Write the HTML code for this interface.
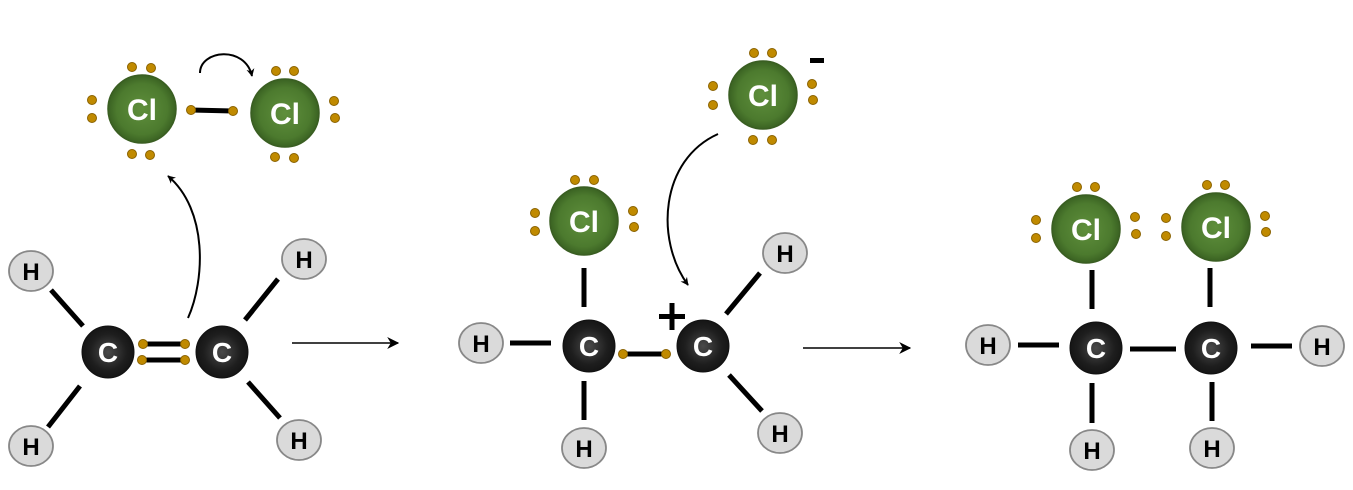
<!DOCTYPE html>
<html><head><meta charset="utf-8"><style>
html,body{margin:0;padding:0;background:#fff;}
svg{display:block;}
text{font-family:"Liberation Sans","DejaVu Sans",sans-serif;font-weight:bold;}
</style></head><body>
<svg width="1353" height="490" viewBox="0 0 1353 490" xmlns="http://www.w3.org/2000/svg">
<defs>
<radialGradient id="gc" cx="0.5" cy="0.5" r="0.5"><stop offset="0" stop-color="#4a4a4a"/><stop offset="0.7" stop-color="#1e1e1e"/><stop offset="1" stop-color="#151515"/></radialGradient>
<radialGradient id="gcl" cx="0.5" cy="0.5" r="0.5"><stop offset="0" stop-color="#5f8f3c"/><stop offset="0.75" stop-color="#4c7a2e"/><stop offset="1" stop-color="#3a6222"/></radialGradient>
<marker id="ah" viewBox="0 0 10 10" refX="9" refY="5" markerWidth="8" markerHeight="8" orient="auto" markerUnits="userSpaceOnUse"><path d="M0,0 L10,5 L0,10 L3,5 z" fill="#000"/></marker>
<marker id="ah2" viewBox="0 0 10 10" refX="9" refY="5" markerWidth="12" markerHeight="12" orient="auto" markerUnits="userSpaceOnUse"><path d="M0,0 L10,5 L0,10 L3,5 z" fill="#000"/></marker>
</defs>

<g stroke="#000" stroke-width="5" fill="none">
<!-- panel 1 bonds -->
<line x1="51" y1="290" x2="83" y2="326"/>
<line x1="80" y1="386" x2="48" y2="427"/>
<line x1="245" y1="320" x2="278" y2="279"/>
<line x1="248" y1="382" x2="280" y2="418"/>
<line x1="143" y1="344" x2="185" y2="344"/>
<line x1="142" y1="360" x2="185" y2="360"/>
<line x1="191" y1="110" x2="233" y2="111"/>
<!-- panel 2 -->
<line x1="584" y1="268" x2="584" y2="307"/>
<line x1="510" y1="343" x2="551" y2="343"/>
<line x1="584" y1="381" x2="584" y2="420"/>
<line x1="623" y1="354" x2="666" y2="354"/>
<line x1="726" y1="314" x2="760" y2="273"/>
<line x1="729" y1="375" x2="762" y2="411"/>
<!-- panel 3 -->
<line x1="1092" y1="270" x2="1092" y2="309"/>
<line x1="1210" y1="268" x2="1210" y2="307"/>
<line x1="1130" y1="349" x2="1176" y2="349"/>
<line x1="1018" y1="345" x2="1059" y2="345"/>
<line x1="1251" y1="346" x2="1292" y2="346"/>
<line x1="1092" y1="383" x2="1092" y2="423"/>
<line x1="1212" y1="382" x2="1212" y2="421"/>
</g>

<!-- arrows -->
<g stroke="#000" stroke-width="2" fill="none">
<line x1="292" y1="343" x2="398" y2="343" stroke-width="1.5" marker-end="url(#ah2)"/>
<line x1="803" y1="348" x2="910" y2="348" stroke-width="1.5" marker-end="url(#ah2)"/>
<path d="M188,318 C205,280 208,210 168,176" marker-end="url(#ah)"/>
<path d="M200,73 C200,50 245,45 252,76" marker-end="url(#ah)"/>
<path d="M718,134 C660,160 655,240 688,285" marker-end="url(#ah)"/>
</g>

<!-- H atoms -->
<g fill="#dadada" stroke="#888" stroke-width="1.8">
<ellipse cx="31" cy="271" rx="22" ry="20"/>
<ellipse cx="304" cy="259" rx="22" ry="20"/>
<ellipse cx="31" cy="446" rx="22" ry="20"/>
<ellipse cx="299" cy="440" rx="22" ry="20"/>
<ellipse cx="481" cy="343" rx="22" ry="20"/>
<ellipse cx="584" cy="448" rx="22" ry="20"/>
<ellipse cx="785" cy="253" rx="22" ry="20"/>
<ellipse cx="780" cy="433" rx="22" ry="20"/>
<ellipse cx="988" cy="345" rx="22" ry="20"/>
<ellipse cx="1322" cy="346" rx="22" ry="20"/>
<ellipse cx="1092" cy="450" rx="22" ry="20"/>
<ellipse cx="1212" cy="448" rx="22" ry="20"/>
</g>
<g font-size="24" text-anchor="middle" fill="#000">
<text x="31" y="280">H</text>
<text x="304" y="268">H</text>
<text x="31" y="455">H</text>
<text x="299" y="449">H</text>
<text x="481" y="352">H</text>
<text x="584" y="457">H</text>
<text x="785" y="262">H</text>
<text x="780" y="442">H</text>
<text x="988" y="354">H</text>
<text x="1322" y="355">H</text>
<text x="1092" y="459">H</text>
<text x="1212" y="457">H</text>
</g>

<!-- C atoms -->
<g fill="url(#gc)" stroke="#111" stroke-width="1">
<circle cx="108" cy="352" r="26"/>
<circle cx="222" cy="352" r="26"/>
<circle cx="589" cy="346" r="26"/>
<circle cx="703" cy="346" r="26"/>
<circle cx="1096" cy="348" r="26"/>
<circle cx="1211" cy="348" r="26"/>
</g>
<g font-size="28" text-anchor="middle" fill="#fff">
<text x="108" y="362">C</text>
<text x="222" y="362">C</text>
<text x="589" y="356">C</text>
<text x="703" y="356">C</text>
<text x="1096" y="358">C</text>
<text x="1211" y="358">C</text>
</g>

<!-- Cl atoms -->
<g fill="url(#gcl)" stroke="#3a5e22" stroke-width="1.5">
<circle cx="142" cy="109" r="34"/>
<circle cx="285" cy="113" r="34"/>
<circle cx="584" cy="221" r="34"/>
<circle cx="763" cy="95" r="34"/>
<circle cx="1086" cy="229" r="34"/>
<circle cx="1216" cy="227" r="34"/>
</g>
<g font-size="30" text-anchor="middle" fill="#fff">
<text x="142" y="120">Cl</text>
<text x="285" y="124">Cl</text>
<text x="584" y="232">Cl</text>
<text x="763" y="106">Cl</text>
<text x="1086" y="240">Cl</text>
<text x="1216" y="238">Cl</text>
</g>

<!-- electron dots -->
<g fill="#c08a00" stroke="#8a6200" stroke-width="1">
<circle cx="132" cy="67" r="4.5"/><circle cx="151" cy="68" r="4.5"/>
<circle cx="92" cy="100" r="4.5"/><circle cx="92" cy="118" r="4.5"/>
<circle cx="132" cy="154" r="4.5"/><circle cx="150" cy="155" r="4.5"/>
<circle cx="191" cy="110" r="4.5"/><circle cx="233" cy="111" r="4.5"/>
<circle cx="276" cy="71" r="4.5"/><circle cx="294" cy="71" r="4.5"/>
<circle cx="334" cy="101" r="4.5"/><circle cx="335" cy="118" r="4.5"/>
<circle cx="275" cy="157" r="4.5"/><circle cx="294" cy="158" r="4.5"/>
<circle cx="143" cy="344" r="4.5"/><circle cx="185" cy="344" r="4.5"/>
<circle cx="142" cy="360" r="4.5"/><circle cx="185" cy="360" r="4.5"/>

<circle cx="575" cy="180" r="4.5"/><circle cx="594" cy="180" r="4.5"/>
<circle cx="535" cy="213" r="4.5"/><circle cx="535" cy="231" r="4.5"/>
<circle cx="633" cy="211" r="4.5"/><circle cx="634" cy="227" r="4.5"/>
<circle cx="623" cy="354" r="4.5"/><circle cx="666" cy="354" r="4.5"/>
<circle cx="754" cy="53" r="4.5"/><circle cx="772" cy="53" r="4.5"/>
<circle cx="713" cy="86" r="4.5"/><circle cx="713" cy="105" r="4.5"/>
<circle cx="812" cy="84" r="4.5"/><circle cx="813" cy="100" r="4.5"/>
<circle cx="753" cy="140" r="4.5"/><circle cx="772" cy="140" r="4.5"/>

<circle cx="1077" cy="187" r="4.5"/><circle cx="1095" cy="187" r="4.5"/>
<circle cx="1036" cy="220" r="4.5"/><circle cx="1036" cy="238" r="4.5"/>
<circle cx="1135" cy="217" r="4.5"/><circle cx="1136" cy="234" r="4.5"/>
<circle cx="1207" cy="185" r="4.5"/><circle cx="1225" cy="185" r="4.5"/>
<circle cx="1166" cy="218" r="4.5"/><circle cx="1166" cy="236" r="4.5"/>
<circle cx="1265" cy="216" r="4.5"/><circle cx="1266" cy="232" r="4.5"/>
</g>

<!-- charges -->
<g fill="#000">
<rect x="659" y="314" width="26" height="5"/>
<rect x="669.5" y="303" width="5" height="27"/>
<rect x="810" y="58" width="14" height="5"/>
</g>
</svg>
</body></html>
